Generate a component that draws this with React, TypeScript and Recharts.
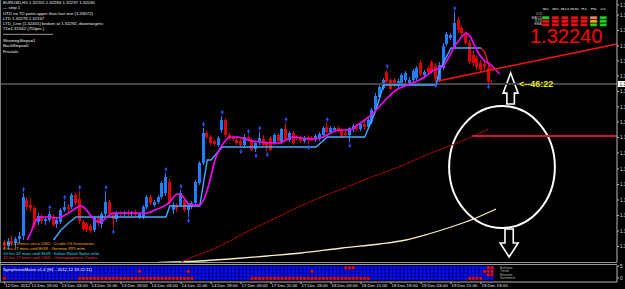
import React from "react";
import {
  Bar,
  BarChart,
  Cell,
  ComposedChart,
  Line,
  ReferenceArea,
  ReferenceLine,
  Scatter,
  XAxis,
  YAxis,
} from "recharts";

const FONT = "'Liberation Sans', Arial, sans-serif";
const BULL = "#1f7fff";
const BEAR = "#dd0000";
const FRACTAL = "#2f4fff";
const AXIS = "#b8b8b8";

// one bar per hour, bar 0 = 12 Dec 12:00, last bar = 19 Dec 22:00
const opens = [
  1.3064, 1.3062, 1.3067, 1.3065, 1.3069, 1.3072, 1.3108, 1.3103, 1.31, 1.3086,
  1.3092, 1.3087, 1.3088, 1.3091, 1.3084, 1.3086, 1.3098, 1.3101, 1.3101, 1.3113,
  1.3109, 1.3086, 1.3084, 1.3082, 1.3078, 1.309, 1.3084, 1.3094, 1.3106, 1.3094,
  1.3089, 1.3095, 1.3094, 1.3095, 1.3094, 1.3095, 1.3091, 1.3091, 1.3101, 1.3111,
  1.3103, 1.3106, 1.3111, 1.3115, 1.3126, 1.3098, 1.3102, 1.3103, 1.3108, 1.3098,
  1.3101, 1.3105, 1.3125, 1.3145, 1.3175, 1.3171, 1.3167, 1.3163, 1.3178, 1.3188,
  1.3173, 1.3171, 1.3168, 1.3167, 1.3163, 1.3171, 1.3168, 1.3159, 1.3166, 1.3169,
  1.3165, 1.317, 1.3165, 1.3173, 1.3166, 1.3179, 1.3168, 1.3175, 1.3171, 1.317,
  1.3167, 1.3171, 1.317, 1.3168, 1.3169, 1.3173, 1.3181, 1.3176, 1.3178, 1.318,
  1.3178, 1.3175, 1.3173, 1.3179, 1.3182, 1.3179, 1.3184, 1.3181, 1.3186, 1.3198,
  1.3211, 1.322, 1.3236, 1.3228, 1.3228, 1.3222, 1.3225, 1.3228, 1.3224, 1.3228,
  1.323, 1.3245, 1.3233, 1.324, 1.3246, 1.3242, 1.3227, 1.324, 1.3264, 1.327,
  1.3261, 1.3288, 1.328, 1.3275, 1.3265, 1.3253, 1.325, 1.3245, 1.3244, 1.324,
  1.32255,
];
const highs = [
  1.3068, 1.307, 1.3072, 1.3071, 1.3076, 1.3115, 1.3111, 1.311, 1.3102, 1.3095,
  1.3094, 1.3091, 1.3097, 1.3094, 1.309, 1.31, 1.3107, 1.3104, 1.3115, 1.3115,
  1.3117, 1.3088, 1.3086, 1.3084, 1.3092, 1.3093, 1.3096, 1.3117, 1.3108, 1.3096,
  1.3097, 1.3097, 1.3097, 1.3098, 1.3097, 1.3098, 1.3095, 1.3103, 1.3113, 1.3113,
  1.3108, 1.3113, 1.3127, 1.3135, 1.3129, 1.3106, 1.3105, 1.3118, 1.311, 1.3105,
  1.3107, 1.3128, 1.3147, 1.318, 1.3177, 1.3173, 1.3169, 1.3172, 1.3192, 1.319,
  1.3175, 1.3173, 1.317, 1.3169, 1.3174, 1.3173, 1.317, 1.3167, 1.3176, 1.3173,
  1.3167, 1.3172, 1.3175, 1.3175, 1.318, 1.3185, 1.3177, 1.3177, 1.3173, 1.3172,
  1.3172, 1.3173, 1.3172, 1.3174, 1.3176, 1.3182, 1.3185, 1.3182, 1.3181, 1.3182,
  1.318, 1.3177, 1.3181, 1.3184, 1.3184, 1.3186, 1.3187, 1.319, 1.32, 1.3215,
  1.3223, 1.323, 1.3238, 1.323, 1.323, 1.3229, 1.3235, 1.3237, 1.3231, 1.3239,
  1.3242, 1.3248, 1.3238, 1.3242, 1.3248, 1.3245, 1.3246, 1.3265, 1.3276, 1.3275,
  1.3296, 1.3291, 1.3283, 1.3277, 1.3268, 1.3258, 1.3252, 1.3248, 1.3248, 1.3243,
  1.32284,
];
const lows = [
  1.3058, 1.3059, 1.3062, 1.3061, 1.3064, 1.3068, 1.3098, 1.3096, 1.308, 1.3083,
  1.3084, 1.3083, 1.3086, 1.3081, 1.308, 1.3084, 1.3096, 1.3096, 1.3099, 1.3103,
  1.3084, 1.3077, 1.3076, 1.3075, 1.3076, 1.3082, 1.308, 1.3092, 1.3092, 1.308,
  1.3086, 1.3092, 1.3092, 1.3092, 1.3092, 1.3091, 1.3089, 1.3089, 1.3099, 1.3103,
  1.3101, 1.3104, 1.3109, 1.3112, 1.3104, 1.3094, 1.3096, 1.3101, 1.3096, 1.3091,
  1.3099, 1.3103, 1.3123, 1.3143, 1.3169, 1.3163, 1.3162, 1.3161, 1.3175, 1.3171,
  1.3168, 1.3167, 1.3163, 1.316, 1.316, 1.3167, 1.3157, 1.3156, 1.3163, 1.3162,
  1.3157, 1.3157, 1.3163, 1.3164, 1.3164, 1.3167, 1.3166, 1.3163, 1.3168, 1.3165,
  1.3165, 1.3164, 1.3167, 1.3166, 1.3167, 1.3171, 1.3175, 1.3174, 1.3176, 1.3176,
  1.317, 1.3172, 1.3166, 1.3176, 1.3177, 1.3177, 1.3178, 1.3179, 1.3184, 1.3196,
  1.3209, 1.3218, 1.3224, 1.3218, 1.3221, 1.322, 1.3223, 1.3225, 1.3222, 1.3225,
  1.3228, 1.3232, 1.3231, 1.3234, 1.3234, 1.3226, 1.3226, 1.3238, 1.3262, 1.3268,
  1.3259, 1.3275, 1.3273, 1.3263, 1.3244, 1.3242, 1.3238, 1.3235, 1.3238, 1.3225,
  1.32237,
];
const closes = [
  1.3062, 1.3067, 1.3065, 1.3069, 1.3072, 1.3111, 1.3101, 1.31, 1.3083, 1.3092,
  1.3087, 1.3089, 1.3094, 1.3083, 1.3088, 1.3098, 1.3101, 1.3099, 1.3113, 1.3105,
  1.3087, 1.3079, 1.3078, 1.3077, 1.309, 1.3085, 1.3094, 1.3106, 1.3094, 1.3089,
  1.3095, 1.3094, 1.3095, 1.3094, 1.3095, 1.3093, 1.3094, 1.3101, 1.3111, 1.3105,
  1.3106, 1.3111, 1.3125, 1.3131, 1.3106, 1.3103, 1.3099, 1.3115, 1.3098, 1.3103,
  1.3105, 1.3126, 1.3145, 1.3175, 1.3171, 1.3165, 1.3164, 1.317, 1.3188, 1.3173,
  1.317, 1.3169, 1.3165, 1.3163, 1.3171, 1.3168, 1.3158, 1.3165, 1.317, 1.3163,
  1.3161, 1.3158, 1.3173, 1.3167, 1.3179, 1.3168, 1.3175, 1.3165, 1.317, 1.3167,
  1.317, 1.3168, 1.3168, 1.3172, 1.3174, 1.318, 1.3176, 1.318, 1.318, 1.3177,
  1.3171, 1.3173, 1.318, 1.3182, 1.3179, 1.3184, 1.3181, 1.3188, 1.3198, 1.3212,
  1.3221, 1.3228, 1.3226, 1.3219, 1.3223, 1.3227, 1.3233, 1.3235, 1.3228, 1.3237,
  1.324, 1.3234, 1.3236, 1.3236, 1.3236, 1.3229, 1.3243, 1.3262, 1.3274, 1.3273,
  1.3285, 1.3278, 1.3275, 1.3265, 1.3246, 1.3245, 1.3241, 1.3238, 1.3241, 1.3226,
  1.3224,
];

const fractalUp = [5, 12, 16, 20, 27, 43, 47, 53, 58, 65, 68, 75, 86, 102, 120];
const fractalDown = [29, 49, 63, 67, 70, 81, 92, 115, 129];

// indicator lines, [bar, price]
const hullMa: [number, number][] = [
  [6, 1.3068], [7, 1.3076], [8, 1.3086], [9, 1.309], [10, 1.3091], [12, 1.3091],
  [14, 1.309], [15, 1.3091], [17, 1.3095], [19, 1.31], [20, 1.3102], [21, 1.3101],
  [22, 1.3097], [23, 1.3092], [24, 1.3088], [25, 1.3086], [26, 1.3087], [27, 1.309],
  [28, 1.3093], [29, 1.3095], [31, 1.3095], [35, 1.3095], [38, 1.3095], [40, 1.3098],
  [42, 1.3101], [44, 1.3106], [45, 1.3111], [46, 1.3114], [47, 1.3113], [48, 1.3109],
  [49, 1.3104], [50, 1.3103], [52, 1.3103], [53, 1.3108], [54, 1.3118], [55, 1.3132],
  [56, 1.3147], [57, 1.3157], [58, 1.3163], [59, 1.3168], [60, 1.3171], [62, 1.3171],
  [64, 1.3169], [66, 1.3167], [68, 1.3166], [71, 1.3165], [73, 1.3165], [75, 1.3168],
  [77, 1.3171], [79, 1.317], [82, 1.3169], [84, 1.317], [86, 1.3173], [88, 1.3177],
  [90, 1.3178], [92, 1.3178], [94, 1.3183], [96, 1.3188], [98, 1.3194], [100, 1.3202],
  [102, 1.321], [104, 1.3217], [106, 1.3221], [108, 1.3224], [110, 1.3227], [112, 1.3231],
  [114, 1.3237], [116, 1.324], [117, 1.3242], [118, 1.3248], [119, 1.3255], [120, 1.3262],
  [121, 1.3267], [122, 1.3272], [123, 1.3275], [124, 1.3272], [125, 1.3265], [126, 1.3257],
  [127, 1.3251], [128, 1.3247], [129, 1.3245], [130, 1.3242], [131, 1.3238], [132, 1.3234],
];
const stepUp: [number, number][] = [
  [13, 1.3068], [15, 1.3078], [17, 1.3085], [19, 1.3091], [43, 1.3091], [44, 1.3102],
  [52, 1.3102], [54, 1.3148], [55, 1.3148], [58, 1.3161], [83, 1.3161], [86, 1.3171],
  [96, 1.3171], [99, 1.3198], [101, 1.3223], [115, 1.3223], [116, 1.3238], [119, 1.326],
  [127, 1.326],
];
const stepDown: [number, number][] = [
  [127, 1.326], [128, 1.3256], [129, 1.3244], [130, 1.3238],
];
const maLong: [number, number][] = [
  [46, 1.3044], [50, 1.3051], [55, 1.3058], [60, 1.3067], [65, 1.3077], [70, 1.3086],
  [75, 1.3095], [80, 1.3104], [85, 1.3112], [90, 1.3119], [95, 1.3127], [100, 1.3134],
  [105, 1.3141], [110, 1.3149], [115, 1.3157], [120, 1.3164], [125, 1.3172], [129, 1.3179],
];
const maSlow: [number, number][] = [
  [38, 1.3045], [45, 1.3046], [52, 1.3047], [60, 1.3049], [70, 1.3052], [79, 1.3055],
  [90, 1.306], [100, 1.3064], [107, 1.3068], [113, 1.3074], [119, 1.3081], [125, 1.3089],
  [131, 1.3099],
];

const priceTicks = [
  1.3303, 1.3293, 1.32775, 1.3262, 1.3247, 1.3232, 1.32165, 1.3201, 1.3186, 1.31705,
  1.3155, 1.3139, 1.31235, 1.3108, 1.30925, 1.3077, 1.30615,
];
const bid = 1.3224;

const timeTicks = [0, 7, 15, 23, 31, 39, 47, 55, 63, 71, 79, 87, 95, 103, 111, 119, 127];
const timeLabels = [
  "12 Dec 2012", "12 Dec 19:00", "13 Dec 03:00", "13 Dec 11:00", "13 Dec 19:00",
  "14 Dec 03:00", "14 Dec 11:00", "14 Dec 19:00", "17 Dec 03:00", "17 Dec 11:00",
  "17 Dec 19:00", "18 Dec 03:00", "18 Dec 11:00", "18 Dec 19:00", "19 Dec 03:00",
  "19 Dec 11:00", "19 Dec 19:00",
];

// Symphonie matrix: red runs per row, top row first; everything else blue
const matrixNames = ["Extreme", "Trend", "Emotion", "Sentiment"];
const matrixRed: [number, number][][] = [
  [[91, 93], [129, 130]],
  [[36, 36], [49, 49], [82, 82], [128, 130]],
  [[129, 130]],
  [[0, 0], [20, 50], [66, 97], [124, 127]],
];

// MTF panel
const mtfFrames = ["M1", "M5", "M15", "M30", "H1", "H4", "D1"];
const mtfRows = ["MACD", "STR", "EMA"];
const mtfColors = [
  ["#20d020", "#ee1010", "#ee1010", "#ee1010", "#ee1010", "#f08070", "#20d020"],
  ["#ee1010", "#ee1010", "#ee1010", "#ee1010", "#ee1010", "#ffaa00", "#20d020"],
  ["#ee1010", "#ee1010", "#ee1010", "#ee1010", "#ee1010", "#20d020", "#20d020"],
];

const infoLines = [
  "EURUSD,H1  1.32255 1.32284 1.32237 1.32240",
  "—  step 1",
  "UTD no TD point-upper than last one (1.33072)",
  "LTD  1.32278  1.32167",
  "LTD_Line (1.32401) broken at 1.32292, downtargets:",
  "T1=1.31642 (750pts.)",
  "",
  "ShowingSteps=1",
  "BackSteps=0",
  "Fractals",
];
const newsLines = [
  { text: "8 hrs 43 mins since USD : Crude Oil Inventories", color: "#ffa500" },
  { text: "8 hrs 47 mins until EUR : German PPI m/m", color: "#ffb400" },
  { text: "10 hrs 47 mins until EUR : Italian Retail Sales m/m", color: "#00e0ff" },
  { text: "15 hrs 17 mins until USD : Unemployment Claims", color: "#ff3030" },
];

const XMIN = -1.267;
const XMAX = 163.267;
const YMIN = 1.3046;
const YMAX = 1.3308;
const LAST = 132;

const table = Array.from({ length: LAST + 1 }, (_, i) => {
  const row: any = { i };
  if (i < opens.length) {
    row.o = opens[i];
    row.h = highs[i];
    row.l = lows[i];
    row.c = closes[i];
    row.range = [lows[i], highs[i]];
  }
  return row;
});
const put = (pts: [number, number][], key: string) =>
  pts.forEach(([i, v]) => {
    table[i][key] = v;
  });
put(hullMa, "hull");
put(stepUp, "stepUp");
put(stepDown, "stepDown");
put(maLong, "maLong");
put(maSlow, "maSlow");

const upPts = fractalUp.map((i) => ({ i, v: highs[i] }));
const downPts = fractalDown.map((i) => ({ i, v: lows[i] }));

const isRed = (row: number, i: number) =>
  matrixRed[row].some(([a, b]) => i >= a && i <= b);
const matrixData = opens.map((_, i) => ({ i, r0: 1, r1: 1, r2: 1, r3: 1 }));

const mtfData = mtfFrames.map((tf, k) => ({ tf, MACD: 1, STR: 1, EMA: 1, k }));

const Candle = (props: any) => {
  const { x, y, width, height, payload } = props;
  if (!payload || payload.o == null) return null;
  const { o, h, l, c } = payload;
  const top = Math.min(y, y + height);
  const span = Math.abs(height);
  const k = span / (h - l || 1e-6);
  const yo = top + (h - o) * k;
  const yc = top + (h - c) * k;
  const color = c >= o ? BULL : BEAR;
  const cx = x + width / 2;
  return (
    <g shapeRendering="crispEdges">
      <line x1={cx} x2={cx} y1={top} y2={top + span} stroke={color} strokeWidth={1} />
      <rect
        x={x}
        y={Math.min(yo, yc)}
        width={width}
        height={Math.max(Math.abs(yo - yc), 1)}
        fill={color}
      />
    </g>
  );
};

const UpFractal = (p: any) => {
  const { cx, cy } = p;
  if (cx == null || cy == null || isNaN(cy)) return null;
  return (
    <g>
      <line x1={cx} x2={cx} y1={cy - 1} y2={cy - 4} stroke={FRACTAL} strokeWidth={1} />
      <path d={`M${cx - 1.8},${cy - 3.2} L${cx},${cy - 6} L${cx + 1.8},${cy - 3.2} Z`} fill={FRACTAL} />
    </g>
  );
};
const DownFractal = (p: any) => {
  const { cx, cy } = p;
  if (cx == null || cy == null || isNaN(cy)) return null;
  return (
    <g>
      <line x1={cx} x2={cx} y1={cy + 1} y2={cy + 4} stroke={FRACTAL} strokeWidth={1} />
      <path d={`M${cx - 1.8},${cy + 3.2} L${cx},${cy + 6} L${cx + 1.8},${cy + 3.2} Z`} fill={FRACTAL} />
    </g>
  );
};

const EllipseShape = (p: any) => (
  <ellipse
    cx={p.x + p.width / 2}
    cy={p.y + p.height / 2}
    rx={p.width / 2}
    ry={p.height / 2}
    fill="none"
    stroke="#ffffff"
    strokeWidth={2}
  />
);
const ArrowUpShape = (p: any) => {
  const { x, y, width: w, height: h } = p;
  const hb = y + h * 0.65;
  const pts = [
    [x + w / 2, y], [x + w, hb], [x + w * 0.75, hb], [x + w * 0.75, y + h],
    [x + w * 0.25, y + h], [x + w * 0.25, hb], [x, hb],
  ];
  return <polygon points={pts.map((q) => q.join(",")).join(" ")} fill="#000" stroke="#fff" strokeWidth={1.6} />;
};
const ArrowDownShape = (p: any) => {
  const { x, y, width: w, height: h } = p;
  const hb = y + h * 0.5;
  const pts = [
    [x + w * 0.27, y], [x + w * 0.73, y], [x + w * 0.73, hb], [x + w, hb],
    [x + w / 2, y + h], [x, hb], [x + w * 0.27, hb],
  ];
  return <polygon points={pts.map((q) => q.join(",")).join(" ")} fill="#000" stroke="#fff" strokeWidth={1.6} />;
};

const BidLabel = (p: any) => {
  const vb = p.viewBox || {};
  const x = vb.x + vb.width + 1;
  return (
    <g>
      <rect x={x} y={vb.y - 3} width={10} height={6} fill="#ffffff" />
      <text x={x + 1.5} y={vb.y + 1.8} fontSize={4.6} fontFamily={FONT} fill="#000">
        {bid.toFixed(5)}
      </text>
    </g>
  );
};

const TimeTick = (p: any) => {
  const { x, y, payload } = p;
  const k = timeTicks.indexOf(payload.value);
  return (
    <text x={x + 0.5} y={y + 3} fontSize={4.4} fontFamily={FONT} fill="#e6e6e6">
      {timeLabels[k]}
    </text>
  );
};

const infoY = [4.3, 8.6, 15, 20, 25, 30, 0, 41.7, 46.7, 53.2];
const newsY = [244.7, 249.6, 254.5, 259];
const matrixLabelY = [268.7, 272.2, 275.7, 279.2];

const App: React.FC = () => {
  return (
    <div
      style={{
        position: "absolute",
        left: 0,
        top: 0,
        width: 625,
        height: 289,
        overflow: "hidden",
        background: "#000",
      }}
    >
      <div style={{ position: "absolute", left: 0, top: 0 }}>
        <ComposedChart width={625} height={263} data={table} margin={{ top: 0, right: 0, bottom: 1, left: 0 }}>
          <XAxis dataKey="i" type="number" domain={[XMIN, XMAX]} allowDataOverflow hide />
          <YAxis
            orientation="right"
            type="number"
            domain={[YMIN, YMAX]}
            allowDataOverflow
            width={8}
            ticks={priceTicks}
            interval={0}
            tickFormatter={(v: number) => v.toFixed(5)}
            tick={{ fill: "#dcdcdc", fontSize: 4.6, fontFamily: FONT, textAnchor: "start" }}
            tickSize={2}
            tickMargin={1}
            axisLine={{ stroke: AXIS }}
            tickLine={{ stroke: AXIS }}
          />
          <ReferenceLine y={bid} stroke="#444444" strokeWidth={2} label={<BidLabel />} />
          <Line dataKey="maSlow" stroke="#f3ecc4" strokeWidth={1.3} dot={false} connectNulls type="monotone" isAnimationActive={false} />
          <Line dataKey="maLong" stroke="#a8001c" strokeWidth={1} dot={false} connectNulls type="monotone" isAnimationActive={false} />
          <Bar dataKey="range" barSize={3} shape={<Candle />} isAnimationActive={false} />
          <Line dataKey="stepUp" stroke="#40aaff" strokeWidth={1.4} dot={false} connectNulls type="linear" isAnimationActive={false} />
          <Line dataKey="stepDown" stroke="#e02020" strokeWidth={1.4} dot={false} connectNulls type="linear" isAnimationActive={false} />
          <Line dataKey="hull" stroke="#ff00ff" strokeWidth={1.6} dot={false} connectNulls type="monotone" isAnimationActive={false} />
          <Scatter data={upPts} dataKey="v" shape={<UpFractal />} isAnimationActive={false} />
          <Scatter data={downPts} dataKey="v" shape={<DownFractal />} isAnimationActive={false} />
          <ReferenceLine
            segment={[{ x: 115.5, y: 1.3227 }, { x: XMAX, y: 1.3264 }]}
            stroke="#ff1010"
            strokeWidth={1.5}
          />
          <ReferenceLine
            segment={[{ x: 124.6, y: 1.3172 }, { x: XMAX, y: 1.3172 }]}
            stroke="#d0143a"
            strokeWidth={2}
          />
          <ReferenceArea x1={118.5} x2={146.7} y1={1.308} y2={1.3202} shape={<EllipseShape />} />
          <ReferenceArea x1={132.9} x2={136.9} y1={1.3204} y2={1.3235} shape={<ArrowUpShape />} />
          <ReferenceArea x1={132.1} x2={136.9} y1={1.3051} y2={1.3079} shape={<ArrowDownShape />} />
        </ComposedChart>
      </div>

      <div style={{ position: "absolute", left: 0, top: 263 }}>
        <ComposedChart width={625} height={26} data={matrixData} margin={{ top: 2.5, right: 0, bottom: 0, left: 0 }}>
          <XAxis
            dataKey="i"
            type="number"
            domain={[XMIN, XMAX]}
            allowDataOverflow
            ticks={timeTicks}
            interval={0}
            tick={<TimeTick />}
            tickSize={2}
            tickMargin={0}
            height={7}
            axisLine={{ stroke: AXIS }}
            tickLine={{ stroke: AXIS }}
          />
          <YAxis
            orientation="right"
            type="number"
            domain={[-0.55, 4.15]}
            width={8}
            ticks={[0.6, 4]}
            interval={0}
            tickFormatter={(v: number) => (v > 2 ? "5" : "0")}
            tick={{ fill: "#dcdcdc", fontSize: 4.6, fontFamily: FONT, textAnchor: "start" }}
            tickSize={2}
            tickMargin={1}
            axisLine={{ stroke: AXIS }}
            tickLine={{ stroke: AXIS }}
          />
          {[3, 2, 1, 0].map((row) => (
            <Bar key={row} dataKey={`r${row}`} stackId="m" barSize={3.75} isAnimationActive={false}>
              {matrixData.map((d) => (
                <Cell
                  key={d.i}
                  fill={isRed(row, d.i) ? "#ff0a0a" : "#0a10ff"}
                  stroke="#00007a"
                  strokeWidth={0.6}
                />
              ))}
            </Bar>
          ))}
        </ComposedChart>
      </div>

      <div style={{ position: "absolute", left: 541, top: 8 }}>
        <BarChart width={67} height={18.5} data={mtfData} margin={{ top: 0, right: 0, bottom: 0, left: 0 }}>
          <XAxis
            dataKey="tf"
            orientation="top"
            axisLine={false}
            tickLine={false}
            interval={0}
            height={8}
            tickMargin={0}
            tick={{ fill: "#e8e8e8", fontSize: 4.4, fontFamily: FONT }}
          />
          <YAxis hide domain={[0, 3]} />
          {["EMA", "STR", "MACD"].map((name) => (
            <Bar key={name} dataKey={name} stackId="t" barSize={7.5} isAnimationActive={false}>
              {mtfData.map((d) => (
                <Cell key={d.tf} fill={mtfColors[mtfRows.indexOf(name)][d.k]} stroke="#000" strokeWidth={0.6} />
              ))}
            </Bar>
          ))}
        </BarChart>
      </div>

      <svg
        width={625}
        height={289}
        style={{ position: "absolute", left: 0, top: 0, pointerEvents: "none" }}
        fontFamily={FONT}
      >
        <line x1={0.5} x2={0.5} y1={0} y2={282} stroke="#7a7a7a" />
        <line x1={0} x2={617} y1={262.5} y2={262.5} stroke="#9a9a9a" />
        <line x1={0} x2={617} y1={264.5} y2={264.5} stroke="#9a9a9a" />

        {infoLines.map((t, k) =>
          t ? (
            <text key={k} x={3} y={infoY[k]} fontSize={4.3} fill="#f0f0f0">
              {t}
            </text>
          ) : null
        )}
        <line x1={3} x2={53} y1={34.3} y2={34.3} stroke="#d8d8d8" strokeWidth={0.7} />

        {newsLines.map((n, k) => (
          <text key={k} x={3} y={newsY[k]} fontSize={4.3} fill={n.color}>
            {n.text}
          </text>
        ))}

        <text x={3} y={270.8} fontSize={4.3} fill="#ffffff">
          SymphonieMatrix v1.4 (H1 - 2012.12.19 22:11)
        </text>
        {matrixNames.map((n, k) => (
          <text key={n} x={500} y={matrixLabelY[k]} fontSize={3.4} fill="#b0b0b0">
            {n}
          </text>
        ))}

        {["CCI", "MACD", "STR", "EMA"].map((n, k) => (
          <text key={n} x={542} y={[14.5, 18.6, 21.6, 25][k]} fontSize={3.6} fill="#c8c8c8" textAnchor="end">
            {n}
          </text>
        ))}

        <text x={530} y={43} fontSize={20} fill="#ff0000">
          1.32240
        </text>
        <text x={519} y={87} fontSize={9} fontWeight="bold" fill="#e8e800">
          {"<--46:22"}
        </text>
      </svg>
    </div>
  );
};

export default App;
